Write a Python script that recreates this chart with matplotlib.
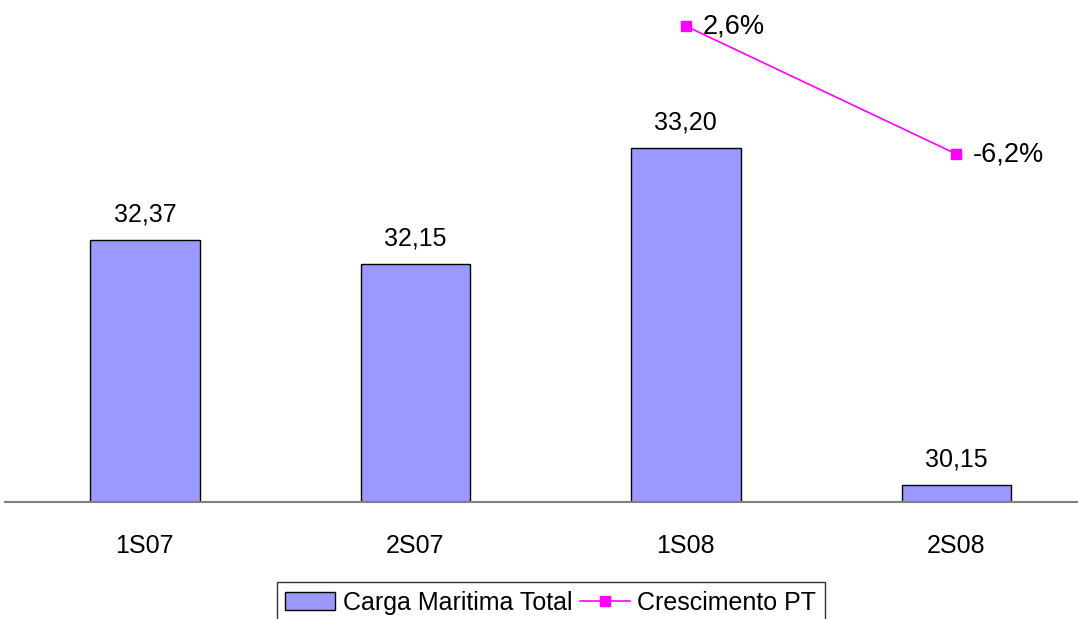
import matplotlib.pyplot as plt
import numpy as np

plt.rcParams['font.family'] = ['Liberation Sans', 'DejaVu Sans']

periodos = ['1S07', '2S07', '1S08', '2S08']
carga_total = [32.37, 32.15, 33.20, 30.15]
carga_labels = ['32,37', '32,15', '33,20', '30,15']
crescimento_idx = [2, 3]
crescimento = [2.6, -6.2]
crescimento_labels = ['2,6%', '-6,2%']

fig = plt.figure(figsize=(10.78, 6.19), dpi=100)
ax = fig.add_axes([5 / 1078, 1 - 502 / 619, 1 - 5 / 1078, 502 / 619])
x = np.arange(len(periodos))

bars = ax.bar(x, carga_total, width=0.405, bottom=0, color='#9999ff',
              edgecolor='black', linewidth=1.0, label='Carga Maritima Total', zorder=2)
ax.set_ylim(30.0, 34.54)
ax.set_xlim(-0.517, 3.45)
for xi, v, lab in zip(x, carga_total, carga_labels):
    ax.annotate(lab, (xi, v), xytext=(0, 10), textcoords='offset points',
                ha='center', va='bottom', fontsize=18)

ax.set_xticks(x)
ax.set_xticklabels(periodos, fontsize=18)
ax.tick_params(axis='x', length=0, pad=23)
ax.set_yticks([])
for s in ['top', 'right', 'left']:
    ax.spines[s].set_visible(False)
ax.spines['bottom'].set_color('#808080')
ax.spines['bottom'].set_linewidth(1.5)

ax2 = ax.twinx()
ax2.set_ylim(-30.13, 4.39)
line, = ax2.plot(crescimento_idx, crescimento, color='#ff00ff', linewidth=1.2,
                 marker='s', markersize=7, label='Crescimento PT')
for xi, v, lab in zip(crescimento_idx, crescimento, crescimento_labels):
    ax2.annotate(lab, (xi, v), xytext=(12, 0), textcoords='offset points',
                 ha='left', va='center', fontsize=19.5)
ax2.set_yticks([])
for s in ax2.spines.values():
    s.set_visible(False)

leg = fig.legend(handles=[bars, line], loc='upper center',
                 bbox_to_anchor=(0.511, 1 - 582 / 619), ncol=2, fontsize=18,
                 frameon=True, fancybox=False, borderpad=0.35, handlelength=2.0,
                 columnspacing=0.3, handletextpad=0.3, borderaxespad=0)
leg.get_frame().set_edgecolor('black')
leg.get_frame().set_linewidth(1.0)

fig.savefig('out.png', dpi=100)
